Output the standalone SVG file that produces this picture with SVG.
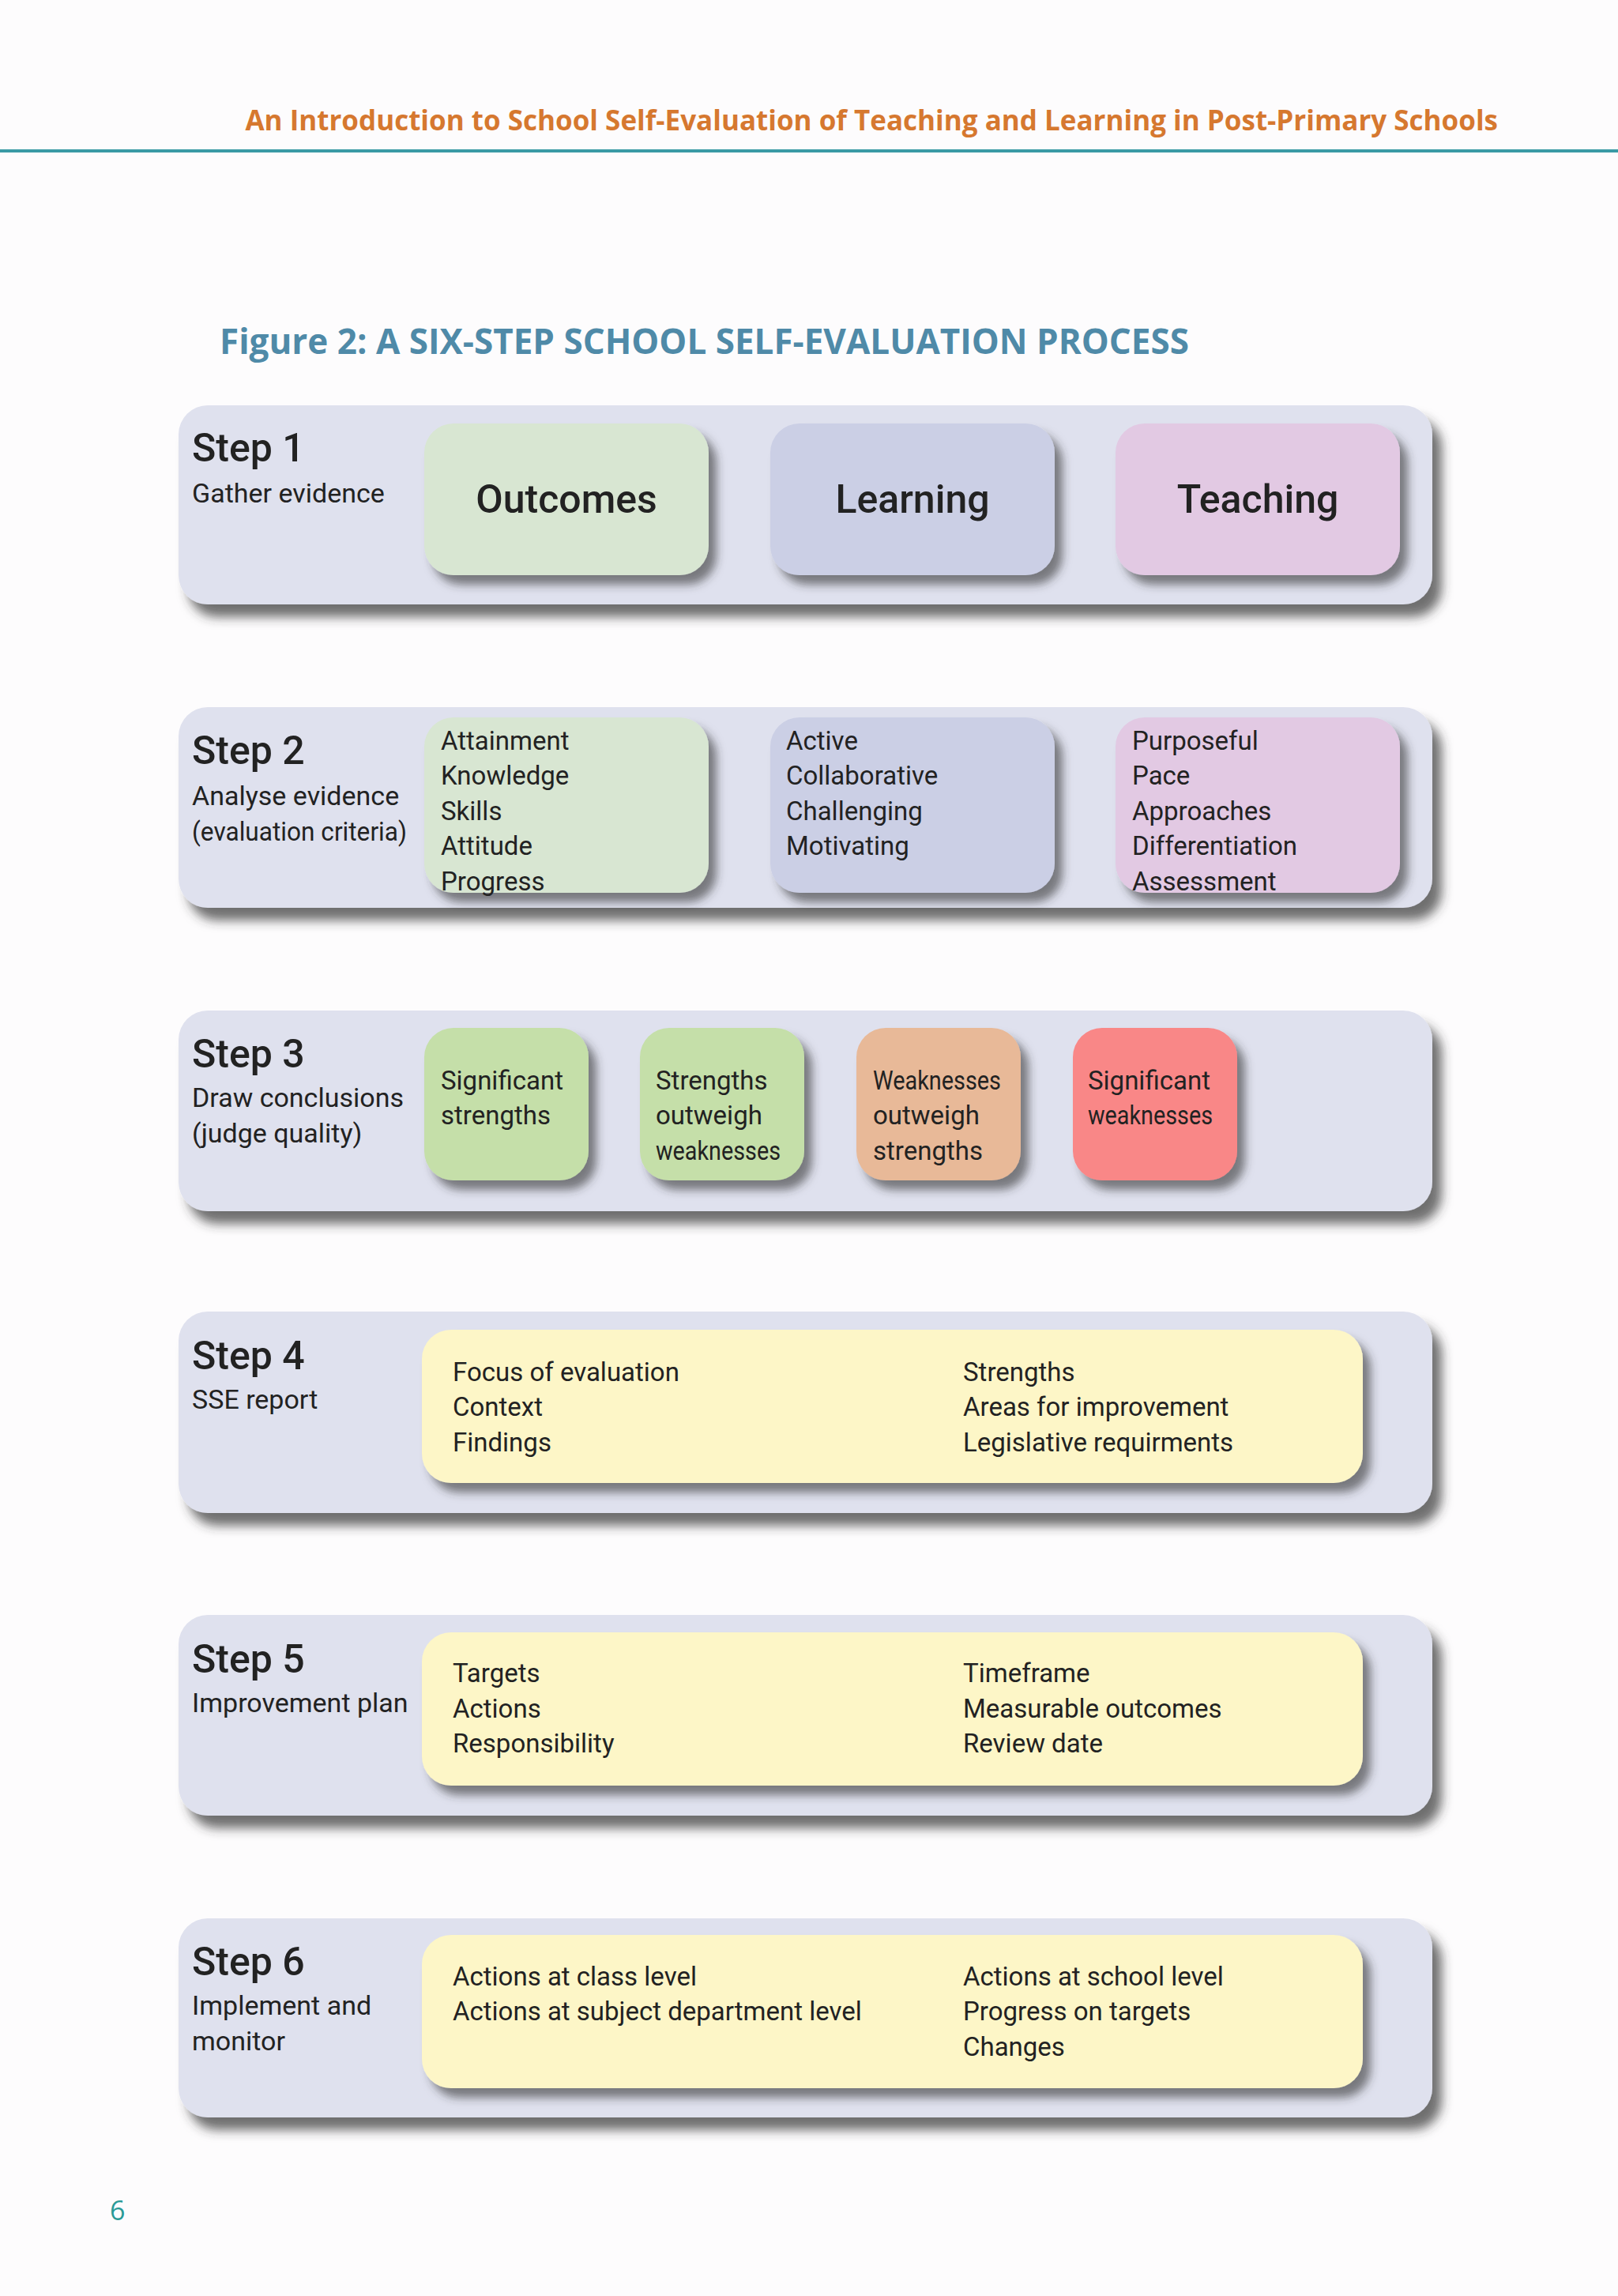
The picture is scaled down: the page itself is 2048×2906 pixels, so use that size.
<svg xmlns="http://www.w3.org/2000/svg" width="2048" height="2906" viewBox="0 0 2048 2906">
<defs>
<filter id="sh" x="-10%" y="-20%" width="130%" height="150%"><feDropShadow dx="12" dy="16" stdDeviation="7" flood-color="#333" flood-opacity="0.7"/></filter>
<filter id="sh2" x="-10%" y="-20%" width="130%" height="150%"><feDropShadow dx="10" dy="12" stdDeviation="6" flood-color="#333" flood-opacity="0.6"/></filter>
</defs>
<style>
text{font-family:"Roboto","Liberation Sans",sans-serif;fill:#222}
.st{font-size:50px;font-weight:500}
.sd{font-size:34px}
.big{font-size:50px;text-anchor:middle;font-weight:500}
.li{font-size:33px}
.panel{fill:#dfe1ee;filter:url(#sh)}
.box{filter:url(#sh2)}
</style>
<rect width="2048" height="2906" fill="#fdfcfd"/>
<text x="1896" y="165" text-anchor="end" style="font-family:'Open Sans','DejaVu Sans',sans-serif;font-size:35px;font-weight:bold;fill:#d6782f">An Introduction to School Self-Evaluation of Teaching and Learning in Post-Primary Schools</text>
<rect x="0" y="189" width="2048" height="4" fill="#3a9aa5"/>
<text x="278" y="448" style="font-family:'Open Sans','DejaVu Sans',sans-serif;font-size:44px;font-weight:bold;fill:#4f8aa8">Figure 2: A SIX-STEP SCHOOL SELF-EVALUATION PROCESS</text>

<g id="step1">
<rect class="panel" x="226" y="513" width="1587" height="252" rx="37"/>
<text class="st" x="243" y="584">Step 1</text><text class="sd" x="243" y="636">Gather evidence</text>
<rect class="box" x="537" y="536" width="360" height="192" rx="37" fill="#d8e6d2"/><text class="big" x="717" y="649">Outcomes</text>
<rect class="box" x="975" y="536" width="360" height="192" rx="37" fill="#cbcfe5"/><text class="big" x="1155" y="649">Learning</text>
<rect class="box" x="1412" y="536" width="360" height="192" rx="37" fill="#e2c9e3"/><text class="big" x="1592" y="649">Teaching</text>
</g>

<g id="step2">
<rect class="panel" x="226" y="895" width="1587" height="254" rx="37"/>
<text class="st" x="243" y="967">Step 2</text><text class="sd" x="243" y="1019">Analyse evidence</text><text class="sd" x="243" y="1064" textLength="272" lengthAdjust="spacingAndGlyphs">(evaluation criteria)</text>
<rect class="box" x="537" y="908" width="360" height="222" rx="37" fill="#d8e6d2"/>
<text class="li" x="558" y="949">Attainment</text><text class="li" x="558" y="993">Knowledge</text><text class="li" x="558" y="1038">Skills</text><text class="li" x="558" y="1082">Attitude</text><text class="li" x="558" y="1127">Progress</text>
<rect class="box" x="975" y="908" width="360" height="222" rx="37" fill="#cbcfe5"/>
<text class="li" x="995" y="949">Active</text><text class="li" x="995" y="993">Collaborative</text><text class="li" x="995" y="1038">Challenging</text><text class="li" x="995" y="1082">Motivating</text>
<rect class="box" x="1412" y="908" width="360" height="222" rx="37" fill="#e2c9e3"/>
<text class="li" x="1433" y="949">Purposeful</text><text class="li" x="1433" y="993">Pace</text><text class="li" x="1433" y="1038">Approaches</text><text class="li" x="1433" y="1082">Differentiation</text><text class="li" x="1433" y="1127">Assessment</text>
</g>

<g id="step3">
<rect class="panel" x="226" y="1279" width="1587" height="254" rx="37"/>
<text class="st" x="243" y="1351">Step 3</text><text class="sd" x="243" y="1401">Draw conclusions</text><text class="sd" x="243" y="1446">(judge quality)</text>
<rect class="box" x="537" y="1301" width="208" height="193" rx="37" fill="#c5dfa9"/><text class="li" x="558" y="1379">Significant</text><text class="li" x="558" y="1423">strengths</text>
<rect class="box" x="810" y="1301" width="208" height="193" rx="37" fill="#c5dfa9"/><text class="li" x="830" y="1379">Strengths</text><text class="li" x="830" y="1423">outweigh</text><text class="li" x="830" y="1468" textLength="158" lengthAdjust="spacingAndGlyphs">weaknesses</text>
<rect class="box" x="1084" y="1301" width="208" height="193" rx="37" fill="#e8b998"/><text class="li" x="1105" y="1379" textLength="162" lengthAdjust="spacingAndGlyphs">Weaknesses</text><text class="li" x="1105" y="1423">outweigh</text><text class="li" x="1105" y="1468">strengths</text>
<rect class="box" x="1358" y="1301" width="208" height="193" rx="37" fill="#f98787"/><text class="li" x="1377" y="1379">Significant</text><text class="li" x="1377" y="1423" textLength="158" lengthAdjust="spacingAndGlyphs">weaknesses</text>
</g>

<g id="step4">
<rect class="panel" x="226" y="1660" width="1587" height="255" rx="37"/>
<text class="st" x="243" y="1733">Step 4</text><text class="sd" x="243" y="1783">SSE report</text>
<rect class="box" x="534" y="1683" width="1191" height="194" rx="37" fill="#fdf6c7"/>
<text class="li" x="573" y="1748">Focus of evaluation</text><text class="li" x="573" y="1792">Context</text><text class="li" x="573" y="1837">Findings</text>
<text class="li" x="1219" y="1748">Strengths</text><text class="li" x="1219" y="1792">Areas for improvement</text><text class="li" x="1219" y="1837">Legislative requirments</text>
</g>

<g id="step5">
<rect class="panel" x="226" y="2044" width="1587" height="254" rx="37"/>
<text class="st" x="243" y="2117">Step 5</text><text class="sd" x="243" y="2167">Improvement plan</text>
<rect class="box" x="534" y="2066" width="1191" height="194" rx="37" fill="#fdf6c7"/>
<text class="li" x="573" y="2129">Targets</text><text class="li" x="573" y="2174">Actions</text><text class="li" x="573" y="2218">Responsibility</text>
<text class="li" x="1219" y="2129">Timeframe</text><text class="li" x="1219" y="2174">Measurable outcomes</text><text class="li" x="1219" y="2218">Review date</text>
</g>

<g id="step6">
<rect class="panel" x="226" y="2428" width="1587" height="252" rx="37"/>
<text class="st" x="243" y="2500">Step 6</text><text class="sd" x="243" y="2550">Implement and</text><text class="sd" x="243" y="2595">monitor</text>
<rect class="box" x="534" y="2449" width="1191" height="194" rx="37" fill="#fdf6c7"/>
<text class="li" x="573" y="2513">Actions at class level</text><text class="li" x="573" y="2557">Actions at subject department level</text>
<text class="li" x="1219" y="2513">Actions at school level</text><text class="li" x="1219" y="2557">Progress on targets</text><text class="li" x="1219" y="2602">Changes</text>
</g>
<g id="connectors"/>
<text x="139" y="2810" style="font-family:'Open Sans','DejaVu Sans',sans-serif;font-size:34px;fill:#2a9a96">6</text>
</svg>
